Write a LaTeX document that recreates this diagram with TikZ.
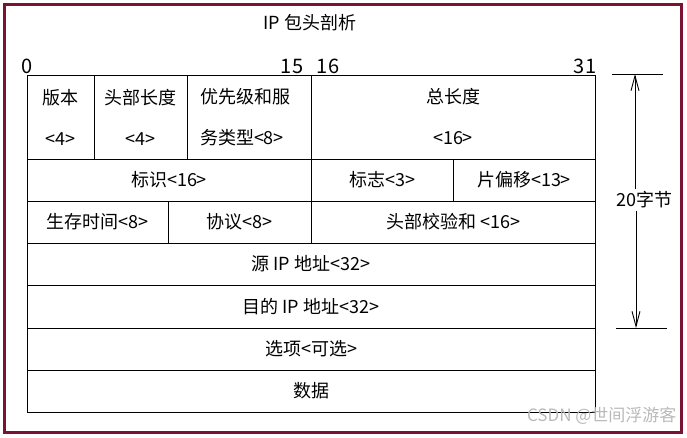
\documentclass[tikz,border=0pt]{standalone}
\usepackage{fontspec}
\setmainfont{Noto Sans CJK SC}
\usepackage{xcolor}
\usepackage{tikz}
\usetikzlibrary{arrows.meta}
\definecolor{frame}{RGB}{122,18,50}

\begin{document}
\begin{tikzpicture}[x=1pt, y=-1pt,
  cell/.style={draw, line width=0.9pt, inner sep=0pt, outer sep=0pt,
    minimum height=42pt, font=\fontsize{18}{20}\selectfont},
  bit/.style={font=\fontsize{20}{22}\selectfont, anchor=base},
  span/.style={line width=0.9pt, -{Straight Barb[length=15pt,width=8pt]}}]
% Frame
\draw[frame, line width=3pt] (4,4.5) rectangle (681,432.5);
\useasboundingbox (0,0) rectangle (687,437);
% Title and bit numbers
\node[font=\fontsize{18}{20}\selectfont] (title) at (310,23) {IP 包头剖析};
\node[bit] (b0) at (27,73) {0};
\node[bit] (b15) at (292,73) {15};
\node[bit] (b16) at (328,73) {16};
\node[bit] (b31) at (585,73) {31};
% Row 1
\node[cell, minimum height=84pt, minimum width=67pt, align=center] (ver) at (60.5,117)
  {版本\\[21pt]<4>};
\node[cell, minimum height=84pt, minimum width=93pt, align=center] (ihl) at (140.5,117)
  {头部长度\\[21pt]<4>};
\node[cell, minimum height=84pt, minimum width=124pt, align=left, text width=98pt] (tos) at (249,117)
  {优先级和服\\[21pt]务类型<8>};
\node[cell, minimum height=84pt, minimum width=284pt, align=center] (len) at (453,117)
  {总长度\\[21pt]<16>};
% Row 2
\node[cell, minimum width=284pt] (ident) at (169,180) {标识<16>};
\node[cell, minimum width=142pt] (flags) at (382,180) {标志<3>};
\node[cell, minimum width=142pt] (frag) at (524,180) {片偏移<13>};
% Row 3
\node[cell, minimum width=141pt] (ttl) at (97.5,222) {生存时间<8>};
\node[cell, minimum width=143pt] (proto) at (239.5,222) {协议<8>};
\node[cell, minimum width=284pt] (csum) at (453,222) {头部校验和 <16>};
% Rows 4 to 7
\node[cell, minimum width=568pt] (src) at (311,264) {源 IP 地址<32>};
\node[cell, minimum width=568pt, minimum height=43pt] (dst) at (311,306.5) {目的 IP 地址<32>};
\node[cell, minimum width=568pt] (opt) at (311,349) {选项<可选>};
\node[cell, minimum width=568pt] (data) at (311,391) {数据};
% Header size
\coordinate (top) at (635,74);
\coordinate (bot) at (636,328);
\draw[line width=0.9pt] (612,74) -- (663,74);
\draw[line width=0.9pt] (616,328) -- (667,328);
\node[font=\fontsize{18}{20}\selectfont, inner sep=2pt] (size) at (644,200) {20字节};
\draw[span] (size.north -| top) -- (top);
\draw[span] (size.south -| bot) -- (bot);
% Watermark
\node[font=\fontsize{17}{19}\selectfont, text=gray!55, anchor=east] (mark) at (680,416) {CSDN @世间浮游客};
\end{tikzpicture}
\end{document}
